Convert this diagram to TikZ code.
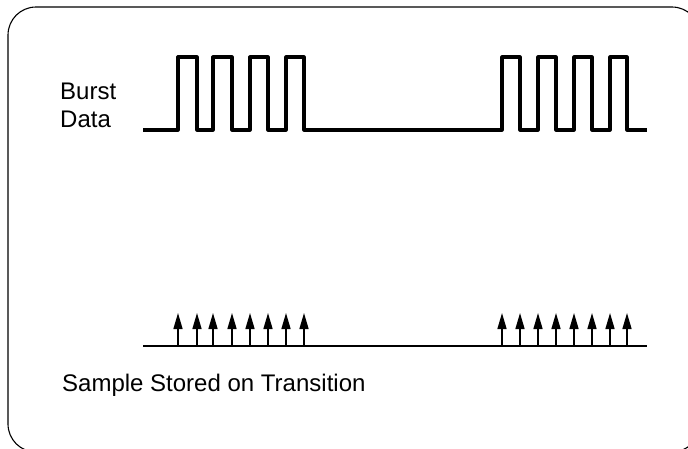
\documentclass[tikz,border=0pt]{standalone}
\usepackage{fontspec}
\setmainfont{Liberation Sans}
\usepackage{tikz}
\usetikzlibrary{arrows.meta}

\begin{document}
\begin{tikzpicture}[x=1pt,y=-1pt,
  label/.style={anchor=base west,inner sep=0pt,font=\fontsize{24}{28}\selectfont},
  wave/.style={line width=3.2pt,line join=round},
  sample/.style={line width=1.5pt,-{Triangle[length=16pt,width=9pt]}}]
\useasboundingbox (0,0) rectangle (688,448);
\clip (0,0) rectangle (688,448);
\draw[line width=1.1pt,rounded corners=28pt] (8,7) rectangle (700,452);
\node[label] (burst) at (60,99) {Burst};
\node[label] (data) at (60,127) {Data};
\draw[wave] (143,130) foreach \a/\b in {178/197,213/232,250/268,286/304,502/520,538/556,574/592,610/627} { -| (\a,57) -| (\b,130) } -- (647,130);
\draw[line width=1.1pt] (143,346) coordinate (s0) -- (647,346) coordinate (s1);
\foreach \x in {178,197,213,232,250,268,286,304,502,520,538,556,574,592,610,627}
  \draw[sample] (\x,346) -- (\x,313);
\node[label] (caption) at (62,391) {Sample Stored on Transition};
\end{tikzpicture}
\end{document}
